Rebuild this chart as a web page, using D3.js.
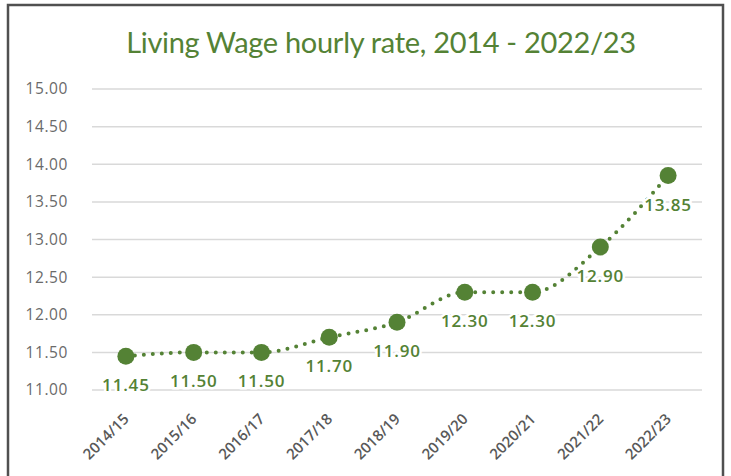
<!DOCTYPE html>
<html>
<head>
<meta charset="utf-8">
<script src="https://cdn.jsdelivr.net/npm/d3@7"></script>
<style>
  body { margin: 0; background: #fff; }
  svg { display: block; }
</style>
</head>
<body>
<div id="chart"></div>
<script>
var svgWidth = 731;
var svgHeight = 476;

// data
var years = ["2014/15", "2015/16", "2016/17", "2017/18", "2018/19", "2019/20", "2020/21", "2021/22", "2022/23"];
var rates = [11.45, 11.50, 11.50, 11.70, 11.90, 12.30, 12.30, 12.90, 13.85];
var yTicks = [11, 11.5, 12, 12.5, 13, 13.5, 14, 14.5, 15];

var green = "#548235";

var margin = { top: 89, right: 29, bottom: 86, left: 92 };
var width = svgWidth - margin.left - margin.right;
var height = svgHeight - margin.top - margin.bottom;

var svg = d3.select("#chart")
  .append("svg")
  .attr("width", svgWidth)
  .attr("height", svgHeight);

// outer frame
svg.append("rect")
  .attr("x", 8)
  .attr("y", 5)
  .attr("width", 715)
  .attr("height", 490)
  .attr("fill", "none")
  .attr("stroke", "#505050")
  .attr("stroke-width", 2.5);

svg.append("text")
  .attr("x", 381)
  .attr("y", 53)
  .attr("text-anchor", "middle")
  .attr("fill", green)
  .style("font-family", "Lato, 'Open Sans', sans-serif")
  .style("font-size", "29px")
  .style("letter-spacing", "-0.3px")
  .text("Living Wage hourly rate, 2014 - 2022/23");

var chartGroup = svg.append("g")
  .attr("transform", `translate(${margin.left}, ${margin.top})`);

var xScale = d3.scaleBand()
  .domain(years)
  .range([0, width]);

var yScale = d3.scaleLinear()
  .domain([11, 15])
  .range([height, 0]);

// gridlines
chartGroup.selectAll(".grid")
  .data(yTicks)
  .enter()
  .append("line")
  .attr("x1", 0)
  .attr("x2", width)
  .attr("y1", d => yScale(d))
  .attr("y2", d => yScale(d))
  .attr("stroke", "#d9d9d9")
  .attr("stroke-width", 1.5);

// y axis labels
var leftAxis = d3.axisLeft(yScale)
  .tickValues(yTicks)
  .tickFormat(d3.format(".2f"))
  .tickSize(0)
  .tickPadding(24);

var yAxis = chartGroup.append("g").call(leftAxis);
yAxis.select(".domain").remove();
yAxis.selectAll("text")
  .attr("fill", "#6a6a6a")
  .style("font-family", "'Open Sans', sans-serif")
  .style("font-size", "15.5px")
  .style("letter-spacing", "0.6px");

// x axis labels, rotated
var bottomAxis = d3.axisBottom(xScale).tickSize(0).tickPadding(0);
var xAxis = chartGroup.append("g")
  .attr("transform", `translate(0, ${height})`)
  .call(bottomAxis);
xAxis.select(".domain").remove();
xAxis.selectAll("text")
  .attr("fill", "#595959")
  .style("font-family", "'Open Sans', sans-serif")
  .style("font-size", "15px")
  .style("font-weight", "600")
  .attr("text-anchor", "end")
  .attr("dy", 0)
  .attr("transform", "translate(4, 30) rotate(-45)");

var cx = d => xScale(d.year) + xScale.bandwidth() / 2;
var points = years.map((y, i) => ({ year: y, rate: rates[i] }));

var line = d3.line()
  .x(cx)
  .y(d => yScale(d.rate))
  .curve(d3.curveMonotoneX);

chartGroup.append("path")
  .datum(points)
  .attr("d", line)
  .attr("fill", "none")
  .attr("stroke", green)
  .attr("stroke-width", 4)
  .attr("stroke-linecap", "round")
  .attr("stroke-dasharray", "0,9");

chartGroup.selectAll("circle")
  .data(points)
  .enter()
  .append("circle")
  .attr("cx", cx)
  .attr("cy", d => yScale(d.rate))
  .attr("r", 8.5)
  .attr("fill", green);

// value labels with white halo behind
chartGroup.selectAll(".val")
  .data(points)
  .enter()
  .append("text")
  .attr("class", "val")
  .attr("x", cx)
  .attr("y", d => yScale(d.rate) + 35)
  .attr("text-anchor", "middle")
  .attr("fill", green)
  .attr("stroke", "#fff")
  .attr("stroke-width", 5)
  .attr("paint-order", "stroke")
  .style("font-family", "'Open Sans', sans-serif")
  .style("font-weight", "600")
  .style("font-size", "17px")
  .style("letter-spacing", "0.8px")
  .text(d => d.rate.toFixed(2));
</script>
</body>
</html>
